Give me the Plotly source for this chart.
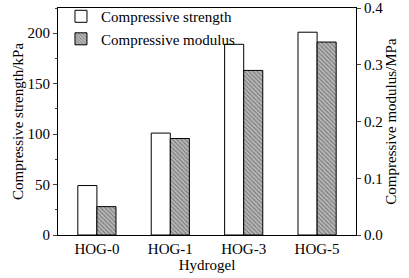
import plotly.graph_objects as go

categories = ["HOG-0", "HOG-1", "HOG-3", "HOG-5"]
strength_kpa = [49, 101, 189, 201]
modulus_mpa = [0.05, 0.17, 0.29, 0.34]

FONT = "Liberation Serif, Times New Roman, serif"

fig = go.Figure()
fig.add_trace(go.Bar(
    x=categories, y=strength_kpa, name="Compressive strength",
    marker=dict(color="white", line=dict(color="black", width=1)),
    offsetgroup="a", width=0.26, offset=-0.26, yaxis="y"))
fig.add_trace(go.Bar(
    x=categories, y=modulus_mpa, name="Compressive modulus",
    marker=dict(color="#aaaaaa", line=dict(color="black", width=1),
                pattern=dict(shape="\\", fgcolor="#333333", bgcolor="#b8b8b8",
                             size=3, solidity=0.35)),
    offsetgroup="b", width=0.26, offset=0.0, yaxis="y2"))

fig.update_layout(
    width=409, height=278,
    margin=dict(l=58, r=53, t=8, b=43, autoexpand=False),
    paper_bgcolor="white", plot_bgcolor="white",
    font=dict(family=FONT, size=15, color="black"),
    showlegend=True,
    legend=dict(x=0.01, y=1.035, xanchor="left", yanchor="top",
                bgcolor="rgba(0,0,0,0)", font=dict(size=15),
                itemwidth=30, tracegroupgap=0),
    xaxis=dict(range=[-0.53, 3.53], showline=True, linecolor="black", linewidth=1,
               mirror=True, ticks="", automargin=False,
               title=dict(text="Hydrogel", standoff=0, font=dict(size=15)),
               tickfont=dict(size=15)),
    yaxis=dict(range=[0, 225], showline=True, linecolor="black", linewidth=1,
               ticks="outside", ticklen=4, tickvals=[0, 50, 100, 150, 200],
               minor=dict(ticks="outside", ticklen=2, dtick=25, tick0=0),
               showgrid=False, zeroline=False, automargin=False,
               tickfont=dict(size=15),
               title=dict(text="Compressive strength/kPa", standoff=0, font=dict(size=15))),
    yaxis2=dict(range=[0, 0.4], overlaying="y", side="right", showline=True,
                linecolor="black", linewidth=1, ticks="outside", ticklen=4,
                tickvals=[0, 0.1, 0.2, 0.3, 0.4], tickformat=".1f",
                showgrid=False, zeroline=False, automargin=False,
                tickfont=dict(size=15),
                title=dict(text="Compressive modulus/MPa", standoff=2, font=dict(size=15))),
)

fig.write_html("out.html", config={"displayModeBar": False},
               post_script="document.body.style.margin='0';")
